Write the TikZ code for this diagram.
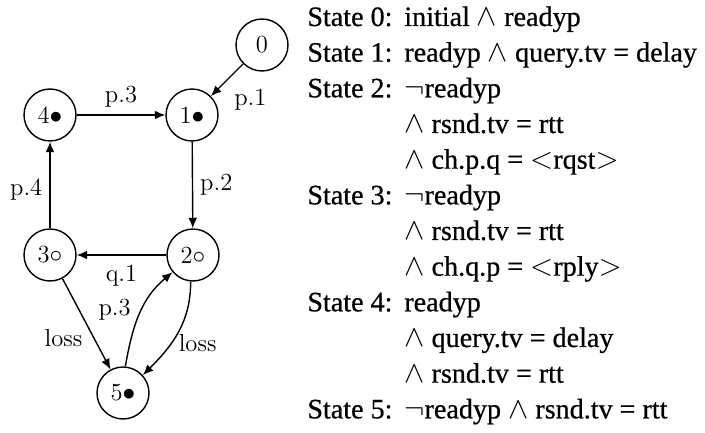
\documentclass[tikz,border=0pt]{standalone}
\usepackage{fontspec}
\usepackage{tikz}
\usetikzlibrary{arrows.meta}
\newfontfamily\statefont[FakeBold=0.6]{Liberation Serif}

\begin{document}
\begin{tikzpicture}[
    x=0.02cm, y=0.02cm,
    state/.style={
      draw, circle, line width=0.8pt, minimum size=1.04cm, inner sep=0pt,
      font=\fontsize{14}{16}\selectfont
    },
    lbl/.style={inner sep=2pt, font=\fontsize{14}{16}\selectfont},
    arr/.style={-{Latex[length=6pt, width=5pt]}, line width=0.8pt},
  ]
    \useasboundingbox (0,0) rectangle (705,-432);
    \node[state] (n0) at (262,-45) {0};
    \node[state] (n1) at (192,-115) {1$\bullet$};
    \node[state] (n4) at (50,-115) {4$\bullet$};
    \node[state] (n3) at (50,-255) {3$\circ$};
    \node[state] (n2) at (193,-255) {2$\circ$};
    \node[state] (n5) at (123,-393) {5$\bullet$};
    \draw[arr] (n0) -- node[lbl, pos=0.95, right=10pt, yshift=-3pt] {p.1} (n1);
    \draw[arr] (n4) -- node[lbl, above=2pt] {p.3} (n1);
    \draw[arr] (n1) -- node[lbl, right=2pt] {p.2} (n2);
    \draw[arr] (n3) -- node[lbl, pos=0.45, left=2pt] {p.4} (n4);
    \draw[arr] (n2) -- node[lbl, below=3.5pt] {q.1} (n3);
    \draw[arr] (n3) -- node[lbl, pos=0.65, left=4pt] {loss} (n5);
    \draw[arr] (n5.85) to[out=80, in=220] node[lbl, pos=0.55, left=4pt] {p.3} (n2.220);
    \draw[arr] (n2.265) to[out=270, in=45] node[lbl, pos=0.62, right=2pt] {loss} (n5.42);
    \node[anchor=base west, inner sep=0pt] (states) at (307,-26) {%
      \statefont\fontsize{16}{20.3}\selectfont
      \begin{tabular}[t]{@{}p{1.94cm}@{}l@{}}
        State 0: & initial $\wedge$ readyp\\
        State 1: & readyp $\wedge$ query.tv = delay\\
        State 2: & $\neg$readyp\\
                 & $\wedge$ rsnd.tv = rtt\\
                 & $\wedge$ ch.p.q = $<$rqst$>$\\
        State 3: & $\neg$readyp\\
                 & $\wedge$ rsnd.tv = rtt\\
                 & $\wedge$ ch.q.p = $<$rply$>$\\
        State 4: & readyp\\
                 & $\wedge$ query.tv = delay\\
                 & $\wedge$ rsnd.tv = rtt\\
        State 5: & $\neg$readyp $\wedge$ rsnd.tv = rtt
      \end{tabular}
    };
  \end{tikzpicture}
\end{document}
